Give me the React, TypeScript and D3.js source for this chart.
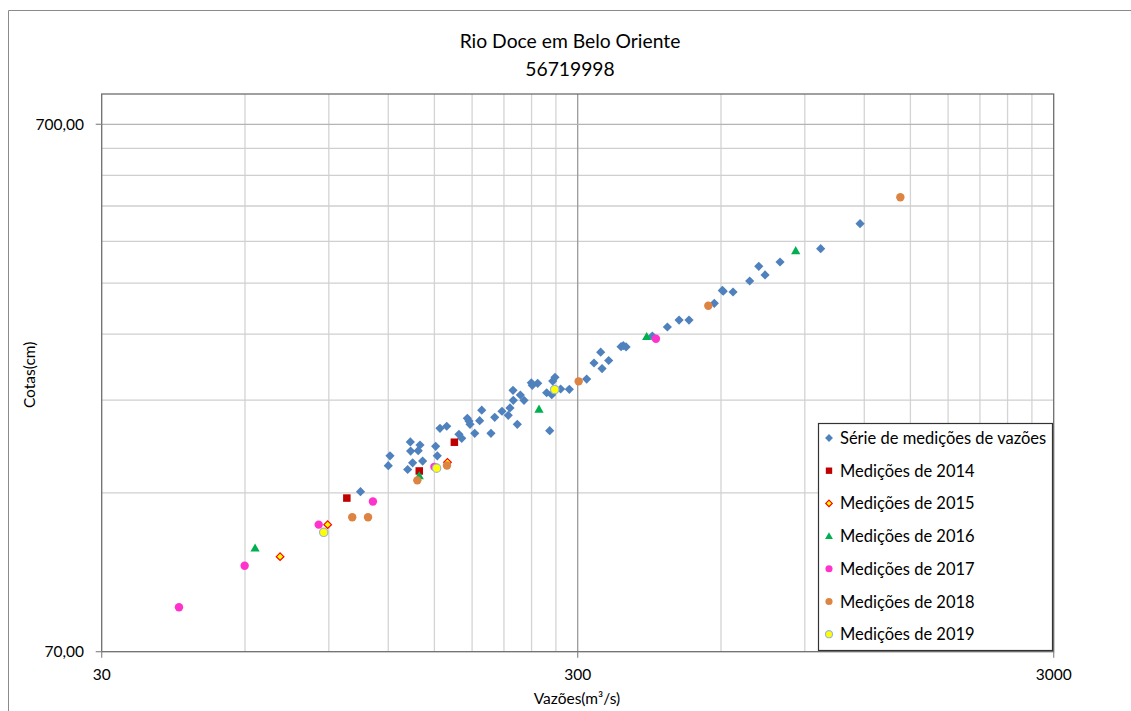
import React from "react";
import * as d3 from "d3";

const W = 1131;
const H = 711;

const title1 = "Rio Doce em Belo Oriente";
const title2 = "56719998";
const xTitle = "Vazões(m³/s)";
const yTitle = "Cotas(cm)";

const xTicks = [30, 300, 3000];
const xTickLabels = ["30", "300", "3000"];
const yTicks = [70, 700];
const yTickLabels = ["70,00", "700,00"];

// [vazão, cota]
const serieHist: [number, number][] = [
  [104.9, 140.8], [120.0, 157.7], [121.0, 164.6], [131.8, 155.1], [133.5, 174.9],
  [133.7, 168.1], [135.0, 159.7], [138.7, 168.4], [139.9, 172.6], [141.7, 160.9],
  [150.9, 171.6], [152.1, 164.6], [154.1, 185.6], [159.2, 187.3], [168.9, 180.8],
  [171.2, 177.7], [175.9, 193.9], [177.3, 191.6], [178.2, 188.9], [182.3, 181.6],
  [186.7, 191.9], [188.6, 200.9], [197.2, 181.6], [200.8, 194.8], [208.0, 200.0],
  [214.4, 196.5], [216.2, 202.9], [219.4, 219.1], [219.7, 209.8], [224.0, 188.9],
  [227.3, 214.7], [231.4, 209.8], [239.7, 226.5], [240.8, 224.0], [247.2, 225.9],
  [258.2, 216.8], [262.0, 183.7], [264.6, 215.0], [265.9, 228.2], [268.8, 231.9],
  [276.3, 220.4], [288.1, 220.1], [313.3, 230.2], [324.6, 246.9], [335.3, 258.8],
  [337.5, 240.9], [348.5, 249.6], [370.0, 265.1], [374.1, 266.3], [379.1, 264.8],
  [430.5, 277.7], [462.9, 288.9], [489.9, 297.8], [514.0, 297.8], [580.9, 320.3],
  [604.0, 339.0], [606.6, 337.7], [636.0, 336.6], [689.4, 353.2], [720.3, 376.6],
  [742.5, 362.6], [798.4, 383.7], [971.8, 406.7], [1175.8, 453.6],
];
const med2014: [number, number][] = [[98.2, 136.9], [139.4, 154.1], [165.2, 174.7]];
const med2015: [number, number][] = [[71.1, 106.0], [89.5, 121.9], [159.8, 160.0]];
const med2016: [number, number][] = [[63.0, 110.0], [139.4, 150.8], [248.8, 201.8], [418.8, 277.1], [861.3, 403.1]];
const med2017: [number, number][] = [[43.6, 85.0], [59.9, 101.9], [85.7, 121.9], [111.4, 134.9], [150.0, 156.9], [438.0, 274.5]];
const med2018: [number, number][] = [[100.8, 125.9], [108.8, 125.9], [138.1, 147.9], [159.4, 157.8], [301.4, 227.9], [564.3, 317.0], [1428.7, 509.0]];
const med2019: [number, number][] = [[87.8, 117.9], [151.6, 156.0], [268.4, 219.9]];

type Shape = "diamond" | "square" | "diamond2" | "triangle" | "circle";
const seriesNames = [
  "Série de medições de vazões",
  "Medições de 2014",
  "Medições de 2015",
  "Medições de 2016",
  "Medições de 2017",
  "Medições de 2018",
  "Medições de 2019",
];
const seriesData = [serieHist, med2014, med2015, med2016, med2017, med2018, med2019];
const seriesShapes: Shape[] = ["diamond", "square", "diamond2", "triangle", "circle", "circle", "circle"];
const seriesFill = ["#4f81bd", "#c00000", "#ffff00", "#00b050", "#ff33cc", "#dd8442", "#ffff00"];
const seriesStroke = ["none", "none", "#ff0000", "none", "none", "none", "#9fb6cf"];

const FONT = "Lato, 'Open Sans', sans-serif";

function Marker({ shape, x, y, fill, stroke, scale = 1 }: { shape: Shape; x: number; y: number; fill: string; stroke: string; scale?: number }) {
  const sw = stroke === "none" ? 0 : 1.2;
  if (shape === "diamond") {
    const r = 4.6 * scale;
    return <path d={`M${x},${y - r}L${x + r},${y}L${x},${y + r}L${x - r},${y}Z`} fill={fill} />;
  }
  if (shape === "diamond2") {
    const r = 3.8 * scale;
    return <path d={`M${x},${y - r}L${x + r},${y}L${x},${y + r}L${x - r},${y}Z`} fill={fill} stroke={stroke} strokeWidth={sw} />;
  }
  if (shape === "square") {
    const s = 7.5 * scale;
    return <rect x={x - s / 2} y={y - s / 2} width={s} height={s} fill={fill} />;
  }
  if (shape === "triangle") {
    const r = 4.6 * scale;
    return <path d={`M${x},${y - r}L${x + r},${y + r * 0.75}L${x - r},${y + r * 0.75}Z`} fill={fill} />;
  }
  return <circle cx={x} cy={y} r={4.2 * scale} fill={fill} stroke={stroke} strokeWidth={sw} />;
}

export default function App() {
  const left = 101.7;
  const right = 1053.7;
  const bottom = 651.7;
  const top = 94;

  const x = d3.scaleLog().domain([30, 3000]).range([left, right]);
  const yDecade = 527.4;
  const yTop = 70 * Math.pow(10, (bottom - top) / yDecade);
  const y = d3.scaleLog().domain([70, yTop]).range([bottom, top]);

  const xMinor: number[] = [];
  for (const dec of [30, 300]) for (let k = 2; k <= 9; k++) xMinor.push(dec * k);
  const yMinor: number[] = [];
  for (let k = 2; k <= 9; k++) yMinor.push(70 * k);

  const legX = 818;
  const legY = 423;
  const legW = 234;
  const legH = 227;
  const rowH = 32.7;

  return (
    <svg width={W} height={H} style={{ position: "absolute", left: 0, top: 0, background: "#fff" }} fontFamily={FONT}>
      <rect x={0} y={0} width={W} height={H} fill="#fff" />
      {/* outer chart border */}
      <path d={`M8.5,${H}V10.5H${W}`} fill="none" stroke="#8a8a8a" strokeWidth={1} />

      {/* title */}
      <text x={570} y={48} textAnchor="middle" fontSize={19.3} fill="#000">{title1}</text>
      <text x={570} y={76} textAnchor="middle" fontSize={19.3} fill="#000">{title2}</text>

      {/* minor gridlines */}
      {xMinor.map((v) => (
        <line key={"xm" + v} x1={x(v)} x2={x(v)} y1={top} y2={bottom} stroke="#d4d4d4" strokeWidth={1.3} />
      ))}
      {yMinor.map((v) => (
        <line key={"ym" + v} x1={left} x2={right} y1={y(v)} y2={y(v)} stroke="#cfcfcf" strokeWidth={1.3} />
      ))}
      {/* major gridlines */}
      {[300].map((v) => (
        <line key={"xM" + v} x1={x(v)} x2={x(v)} y1={top} y2={bottom} stroke="#9a9a9a" strokeWidth={1.3} />
      ))}
      {[700].map((v) => (
        <line key={"yM" + v} x1={left} x2={right} y1={y(v)} y2={y(v)} stroke="#b4b4b4" strokeWidth={1.3} />
      ))}

      {/* plot border */}
      <rect x={left} y={top} width={right - left} height={bottom - top} fill="none" stroke="#6e6e6e" strokeWidth={1.3} />

      {/* axis ticks */}
      {yTicks.map((v, i) => (
        <g key={"yt" + v}>
          <line x1={left - 6} x2={left} y1={y(v)} y2={y(v)} stroke="#8a8a8a" strokeWidth={1.2} />
          <text x={84} y={y(v) + 5.5} textAnchor="end" fontSize={15.5} fill="#000">{yTickLabels[i]}</text>
        </g>
      ))}
      {xTicks.map((v, i) => (
        <g key={"xt" + v}>
          <line x1={x(v)} x2={x(v)} y1={bottom} y2={bottom + 6} stroke="#8a8a8a" strokeWidth={1.2} />
          <text x={x(v)} y={680} textAnchor="middle" fontSize={15.5} fill="#000">{xTickLabels[i]}</text>
        </g>
      ))}

      {/* axis titles */}
      <text x={577} y={704} textAnchor="middle" fontSize={15.5} fill="#000">{xTitle}</text>
      <text transform={`translate(35,${(top + bottom) / 2 + 2}) rotate(-90)`} textAnchor="middle" fontSize={15.5} fill="#000">{yTitle}</text>

      {/* points */}
      {seriesData.map((data, si) => (
        <g key={"s" + si}>
          {data.map((d, j) => (
            <Marker key={j} shape={seriesShapes[si]} x={x(d[0])} y={y(d[1])} fill={seriesFill[si]} stroke={seriesStroke[si]} />
          ))}
        </g>
      ))}

      {/* legend */}
      <rect x={legX + 0.5} y={legY + 0.5} width={legW} height={legH} fill="#fff" stroke="#333" strokeWidth={1.2} />
      {seriesNames.map((name, i) => {
        const cy = legY + 15 + i * rowH;
        return (
          <g key={"l" + i}>
            <Marker shape={seriesShapes[i]} x={legX + 11} y={cy} fill={seriesFill[i]} stroke={seriesStroke[i]} scale={0.85} />
            <text x={legX + 22} y={cy + 6} fontSize={16.5} fill="#000">{name}</text>
          </g>
        );
      })}
    </svg>
  );
}
